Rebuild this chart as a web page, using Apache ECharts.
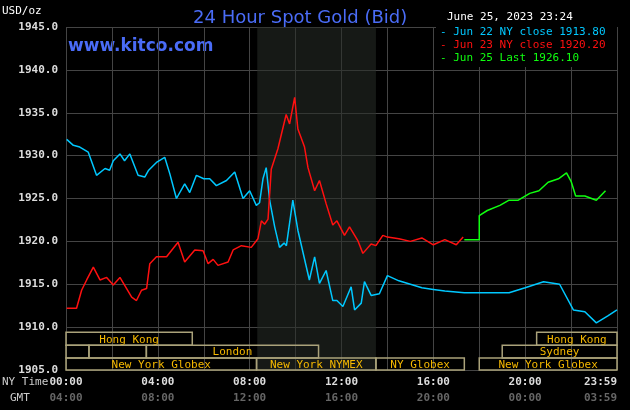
<!DOCTYPE html>
<html>
<head>
<meta charset="UTF-8">
<script src="https://cdn.jsdelivr.net/npm/echarts/dist/echarts.min.js"></script>
<style>
  html, body { margin: 0; padding: 0; background: #000; }
  #chart { width: 630px; height: 410px; }
</style>
</head>
<body>
<div id="chart"></div>
<script>
  // hours since 00:00 NY time, price
  const jun22 = [[0.03,1931.9],[0.32,1931.2],[0.6,1931.0],[0.97,1930.4],[1.33,1927.7],[1.7,1928.5],[1.9,1928.3],[2.06,1929.4],[2.35,1930.2],[2.55,1929.4],[2.78,1930.2],[3.14,1927.7],[3.43,1927.5],[3.6,1928.3],[3.94,1929.2],[4.3,1929.8],[4.52,1927.9],[4.81,1925.0],[5.17,1926.7],[5.39,1925.7],[5.68,1927.7],[6.0,1927.3],[6.26,1927.3],[6.55,1926.5],[6.99,1927.1],[7.35,1928.1],[7.71,1925.0],[8.0,1925.9],[8.29,1924.2],[8.43,1924.5],[8.58,1927.3],[8.72,1928.6],[8.87,1924.8],[9.09,1921.7],[9.3,1919.3],[9.5,1919.8],[9.6,1919.5],[9.88,1924.8],[10.1,1921.3],[10.6,1915.5],[10.83,1918.2],[11.04,1915.1],[11.33,1916.6],[11.62,1913.1],[11.8,1913.1],[12.06,1912.4],[12.42,1914.7],[12.57,1912.0],[12.86,1912.8],[13.0,1915.3],[13.29,1913.7],[13.65,1913.9],[14.0,1916.0],[14.5,1915.4],[15.0,1915.0],[15.5,1914.6],[16.0,1914.4],[16.5,1914.2],[17.35,1914.0],[19.3,1914.0],[20.0,1914.6],[20.8,1915.3],[21.5,1915.0],[22.1,1912.0],[22.6,1911.8],[23.1,1910.5],[23.6,1911.3],[24.0,1912.0]];
  const jun23 = [[0.03,1912.2],[0.46,1912.2],[0.68,1914.3],[0.9,1915.5],[1.19,1917.0],[1.48,1915.5],[1.77,1915.8],[2.06,1914.9],[2.35,1915.8],[2.55,1914.9],[2.86,1913.5],[3.07,1913.1],[3.29,1914.3],[3.51,1914.5],[3.65,1917.4],[3.94,1918.2],[4.38,1918.2],[4.88,1919.9],[5.17,1917.6],[5.61,1919.0],[5.97,1918.9],[6.19,1917.4],[6.41,1917.9],[6.62,1917.2],[7.06,1917.6],[7.28,1919.0],[7.64,1919.5],[8.07,1919.3],[8.36,1920.3],[8.51,1922.4],[8.65,1922.0],[8.8,1922.6],[8.94,1928.4],[9.23,1930.8],[9.59,1934.8],[9.74,1933.7],[9.96,1936.8],[10.1,1933.1],[10.39,1931.0],[10.54,1928.6],[10.83,1925.9],[11.04,1927.1],[11.33,1924.4],[11.62,1921.9],[11.8,1922.4],[12.13,1920.7],[12.35,1921.7],[12.71,1920.1],[12.93,1918.6],[13.29,1919.7],[13.5,1919.5],[13.8,1920.7],[14.0,1920.5],[14.5,1920.3],[15.0,1920.0],[15.5,1920.4],[16.0,1919.6],[16.5,1920.2],[17.0,1919.6],[17.3,1920.5]];
  const jun25 = [[17.35,1920.2],[18.0,1920.2],[18.0,1923.0],[18.35,1923.6],[18.9,1924.2],[19.3,1924.8],[19.7,1924.8],[20.2,1925.6],[20.6,1925.9],[21.0,1926.9],[21.45,1927.3],[21.8,1928.0],[22.0,1927.0],[22.2,1925.3],[22.6,1925.3],[23.1,1924.8],[23.5,1925.9]];
  const legendTexts = ['- Jun 22 NY close 1913.80', '- Jun 23 NY close 1920.20', '- Jun 25 Last 1926.10'];
  const seriesColors = ['#00c8ff', '#ff1010', '#10ff10'];
  const nyTicks = { 0: '00:00', 4: '04:00', 8: '08:00', 12: '12:00', 16: '16:00', 20: '20:00', 24: '23:59' };
  const gmtTicks = { 0: '04:00', 4: '08:00', 8: '12:00', 12: '16:00', 16: '20:00', 20: '00:00', 24: '03:59' };
  // [row, start hour, end hour, label]
  const sessions = [
    [0, 0, 5.5, 'Hong Kong'], [0, 20.5, 24, 'Hong Kong'],
    [1, 0, 1, ''], [1, 1, 3.5, ''], [1, 3.5, 11, 'London'], [1, 19, 24, 'Sydney'],
    [2, 0, 8.3, 'New York Globex'], [2, 8.3, 13.5, 'New York NYMEX'],
    [2, 13.5, 17.35, 'NY Globex'], [2, 18, 24, 'New York Globex']
  ];
  const rowBands = [[1907.9, 1909.4], [1906.4, 1907.9], [1905, 1906.4]];
  const nymex = [8.33, 13.5];

  const mono = 'DejaVu Sans Mono';
  const chart = echarts.init(document.getElementById('chart'));
  chart.setOption({
    backgroundColor: '#000',
    animation: false,
    grid: { left: 66, right: 13, top: 27, bottom: 40, outerBoundsMode: 'none', containLabel: false },
    title: {
      text: '24 Hour Spot Gold (Bid)', left: 188, top: 4,
      textStyle: { color: '#4a6cf7', fontSize: 18, fontWeight: 'normal', fontFamily: 'DejaVu Sans' }
    },
    graphic: [
      { type: 'text', left: 2, top: 6, style: { text: 'USD/oz', fill: '#fff', font: '11px ' + mono } },
      { type: 'text', left: 68, top: 38, style: { text: 'www.kitco.com', fill: '#4a6cf7', font: 'bold 17px DejaVu Sans' } },
      { type: 'text', left: 447, top: 12, style: { text: 'June 25, 2023 23:24', fill: '#fff', font: '11px ' + mono } },
      { type: 'rect', left: 436, top: 27, z: 10, shape: { width: 181, height: 40 }, style: { fill: '#000' } },
      ...legendTexts.map((t, i) => ({ type: 'text', z: 11, left: 440, top: 27 + i * 13, style: { text: t, fill: seriesColors[i], font: '11px ' + mono } })),
      { type: 'text', left: 2, top: 377, style: { text: 'NY Time', fill: '#ccc', font: '11px ' + mono } },
      { type: 'text', left: 10, top: 393, style: { text: 'GMT', fill: '#ccc', font: '11px ' + mono } }
    ],
    xAxis: {
      type: 'value', min: 0, max: 24, interval: 2,
      axisLine: { show: false }, axisTick: { show: false },
      splitLine: { lineStyle: { color: '#444' } },
      axisLabel: {
        margin: 4,
        alignMaxLabel: 'right',
        formatter: v => nyTicks[v] ? '{a|' + nyTicks[v] + '}\n{b|' + gmtTicks[v] + '}' : '',
        rich: {
          a: { color: '#ddd', fontFamily: mono, fontSize: 11, fontWeight: 'bold', lineHeight: 16 },
          b: { color: '#666', fontFamily: mono, fontSize: 11, fontWeight: 'bold', lineHeight: 16 }
        }
      }
    },
    yAxis: {
      type: 'value', min: 1905, max: 1945, interval: 5,
      axisLine: { show: false }, axisTick: { show: false },
      splitLine: { lineStyle: { color: '#444' } },
      axisLabel: { color: '#ddd', fontFamily: mono, fontSize: 11, fontWeight: 'bold', formatter: v => v.toFixed(1) }
    },
    series: [
      {
        type: 'line', data: jun22, showSymbol: false, lineStyle: { color: seriesColors[0], width: 1.5 }, z: 3,
        markArea: { silent: true, itemStyle: { color: 'rgba(40,46,40,0.55)' }, data: [[{ xAxis: nymex[0] }, { xAxis: nymex[1] }]] }
      },
      { type: 'line', data: jun23, showSymbol: false, lineStyle: { color: seriesColors[1], width: 1.5 }, z: 3 },
      { type: 'line', data: jun25, showSymbol: false, lineStyle: { color: seriesColors[2], width: 1.5 }, z: 3 },
      {
        type: 'custom', z: 4, data: sessions,
        renderItem: (params, api) => {
          const row = api.value(0);
          const band = rowBands[row];
          const p1 = api.coord([api.value(1), band[1]]);
          const p2 = api.coord([api.value(2), band[0]]);
          const label = sessions[params.dataIndex][3];
          return {
            type: 'group',
            children: [
              { type: 'rect', shape: { x: p1[0], y: p1[1], width: p2[0] - p1[0], height: p2[1] - p1[1] },
                style: { fill: 'none', stroke: '#aaa27a', lineWidth: 1.5 } },
              { type: 'text', style: { text: label, x: (p1[0] + p2[0]) / 2, y: (p1[1] + p2[1]) / 2 + 1,
                align: 'center', verticalAlign: 'middle', fill: '#f5b800', font: '11px ' + mono } }
            ]
          };
        }
      }
    ]
  });
</script>
</body>
</html>
